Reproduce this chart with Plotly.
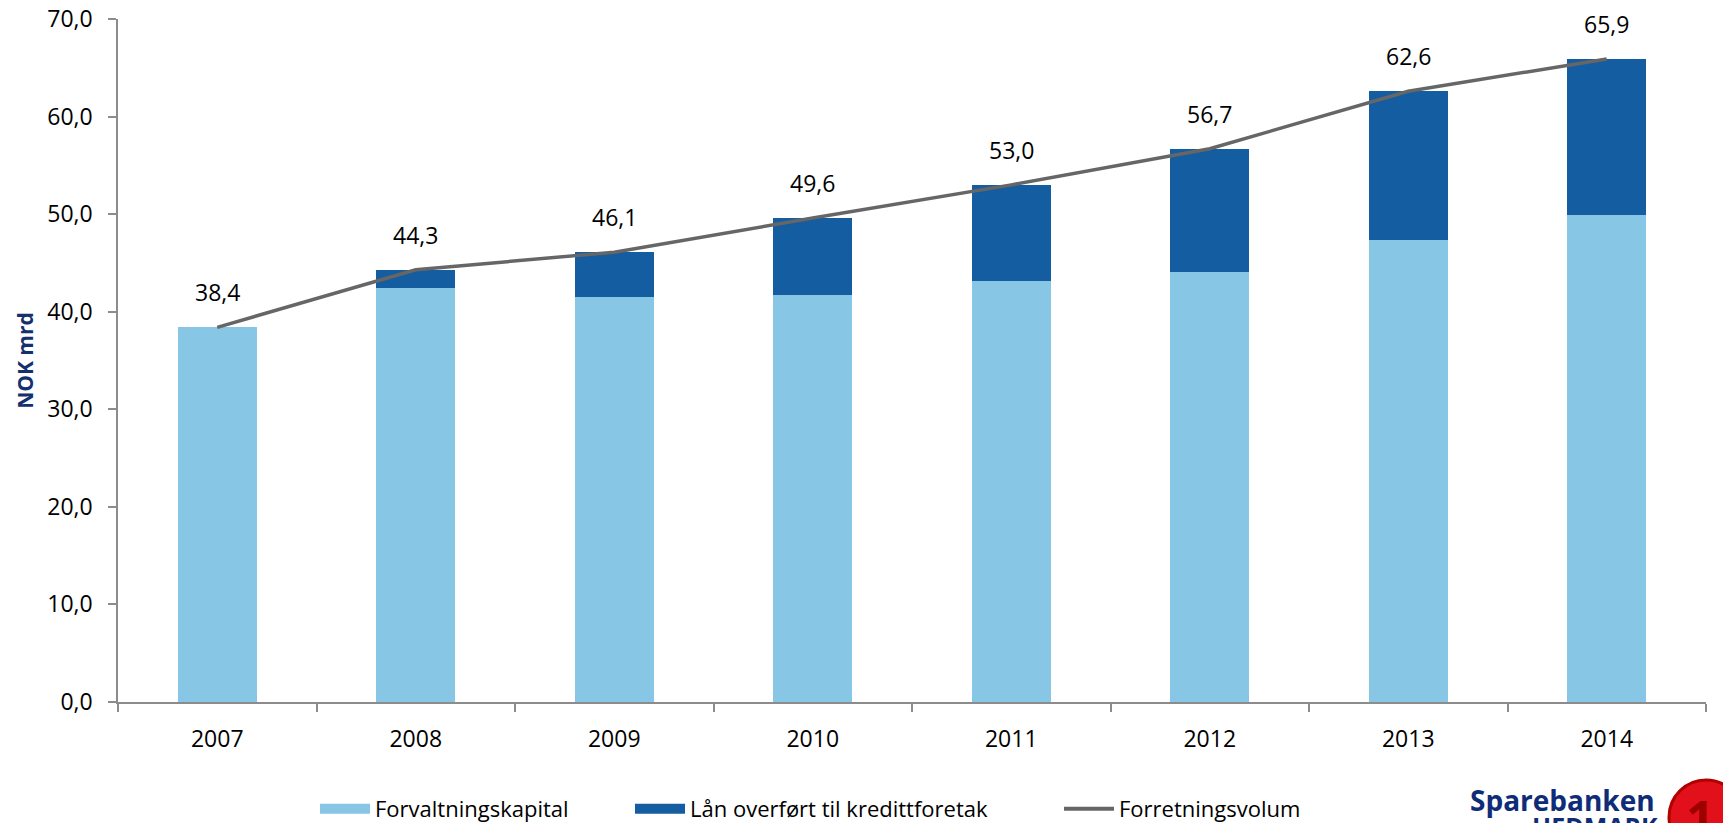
import plotly.graph_objects as go

years = ["2007", "2008", "2009", "2010", "2011", "2012", "2013", "2014"]
forvaltningskapital = [38.4, 42.4, 41.5, 41.7, 43.1, 44.1, 47.4, 49.9]
forretningsvolum = [38.4, 44.3, 46.1, 49.6, 53.0, 56.7, 62.6, 65.9]
laan_kredittforetak = [round(t - f, 1) for t, f in zip(forretningsvolum, forvaltningskapital)]
y_ticks = [0, 10, 20, 30, 40, 50, 60, 70]

C_LIGHT = "#87C6E5"
C_DARK = "#145DA0"
C_LINE = "#666666"
C_AXIS = "#8C8C8C"
FONT = "Open Sans"

W, H = 1723, 823
L, R, T, B = 118, 17, 19, 121
PW, PH = W - L - R, H - T - B


def px_x(p):
    return (p - L) / PW


def px_y(p):
    return (H - B - p) / PH


fig = go.Figure()

fig.add_trace(go.Bar(
    x=years, y=forvaltningskapital, marker=dict(color=C_LIGHT, line=dict(width=0)),
    name="Forvaltningskapital", showlegend=False, hoverinfo="x+y"))
fig.add_trace(go.Bar(
    x=years, y=laan_kredittforetak, marker=dict(color=C_DARK, line=dict(width=0)),
    name="Lån overført til kredittforetak", showlegend=False, hoverinfo="x+y"))
fig.add_trace(go.Scatter(
    x=years, y=forretningsvolum, mode="lines", line=dict(color=C_LINE, width=3.5),
    name="Forretningsvolum", showlegend=False))

# legend entries
fig.add_trace(go.Scatter(x=[None], y=[None], mode="lines", line=dict(color=C_LIGHT, width=17),
                         name="Forvaltningskapital", legend="legend"))
fig.add_trace(go.Scatter(x=[None], y=[None], mode="lines", line=dict(color=C_DARK, width=17),
                         name="Lån overført til kredittforetak", legend="legend2"))
fig.add_trace(go.Scatter(x=[None], y=[None], mode="lines", line=dict(color=C_LINE, width=4),
                         name="Forretningsvolum", legend="legend3"))

annotations = []
for i, v in enumerate(forretningsvolum):
    annotations.append(dict(
        x=i, y=v, xref="x", yref="y", text=f"{v:.1f}".replace(".", ","),
        showarrow=False, yshift=35, yanchor="middle",
        font=dict(family=FONT, size=23, color="#000000")))

# logo text
annotations.append(dict(
    x=px_x(1468), y=px_y(784), xref="paper", yref="paper", xanchor="left", yanchor="top",
    text="<b>Sparebanken</b>", showarrow=False,
    font=dict(family=FONT, size=28, color="#0E2C78"), yshift=5))
annotations.append(dict(
    x=px_x(1530), y=px_y(815), xref="paper", yref="paper", xanchor="left", yanchor="top",
    text="<b>HEDMARK</b>", showarrow=False,
    font=dict(family=FONT, size=25, color="#0E2C78"), yshift=8))
annotations.append(dict(
    x=px_x(1700), y=px_y(818), xref="paper", yref="paper", xanchor="center", yanchor="middle",
    text="<b>1</b>", showarrow=False,
    font=dict(family=FONT, size=50, color="#9E0000")))

shapes = [dict(
    type="circle", xref="paper", yref="paper",
    x0=px_x(1669), x1=px_x(1743), y0=px_y(854), y1=px_y(780),
    fillcolor="#E2101B", line=dict(color="#B00000", width=3), layer="below")]

legend_common = dict(orientation="h", xanchor="left", yanchor="middle",
                     font=dict(family=FONT, size=22, color="#000000"),
                     bgcolor="rgba(0,0,0,0)", itemwidth=50, borderwidth=0)

fig.update_layout(
    width=W, height=H, autosize=False,
    margin=dict(l=L, r=R, t=T, b=B, pad=0, autoexpand=False),
    paper_bgcolor="white", plot_bgcolor="white",
    barmode="stack", bargap=0.6,
    separators=",.",
    font=dict(family=FONT, color="#000000"),
    annotations=annotations, shapes=shapes,
    legend=dict(x=px_x(315), y=px_y(809), **legend_common),
    legend2=dict(x=px_x(630), y=px_y(809), **legend_common),
    legend3=dict(x=px_x(1059), y=px_y(809), **legend_common),
    xaxis=dict(
        type="category", range=[-0.5, 7.5], tickson="boundaries",
        showline=True, linecolor=C_AXIS, linewidth=1.5,
        ticks="outside", ticklen=8, tickcolor=C_AXIS, tickwidth=1.5,
        showgrid=False, zeroline=False,
        tickfont=dict(family=FONT, size=23, color="#000000"),
        ticklabelstandoff=16),
    yaxis=dict(
        range=[0, 70], tickvals=y_ticks, tickformat=".1f",
        showline=True, linecolor=C_AXIS, linewidth=1.5,
        ticks="outside", ticklen=8, tickcolor=C_AXIS, tickwidth=1.5,
        showgrid=False, zeroline=False,
        tickfont=dict(family=FONT, size=23, color="#000000"),
        ticklabelstandoff=11,
        title=dict(text="<b>NOK mrd</b>", standoff=8,
                   font=dict(family=FONT, size=21, color="#14306E"))),
)

fig.write_html("out.html", include_plotlyjs=True, config={"displayModeBar": False},
               post_script="document.body.style.margin='0';document.body.style.overflow='hidden';")
